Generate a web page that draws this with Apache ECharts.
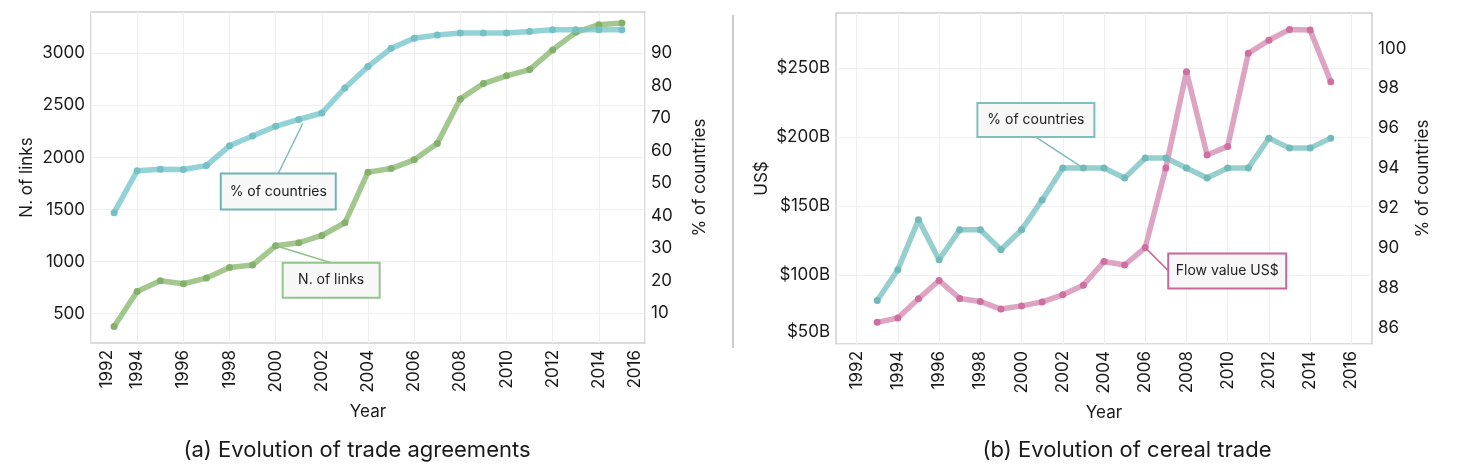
<!DOCTYPE html>
<html><head><meta charset="utf-8">
<script src="https://cdn.jsdelivr.net/npm/echarts@6/dist/echarts.min.js"></script>
<style>html,body{margin:0;padding:0;background:#fff}#c{width:1469px;height:470px}</style>
</head><body><div id="c"></div>
<script>
const years = [1993,1994,1995,1996,1997,1998,1999,2000,2001,2002,2003,2004,2005,2006,2007,2008,2009,2010,2011,2012,2013,2014,2015];
const nLinks = [378,714,816,788,842,944,967,1152,1181,1251,1373,1859,1893,1977,2133,2562,2709,2783,2843,3032,3201,3274,3290];
const pctAgreements = [40.9,53.8,54.3,54.2,55.4,61.5,64.5,67.5,69.6,71.6,79.3,85.9,91.5,94.6,95.6,96.2,96.2,96.2,96.7,97.2,97.2,97.2,97.2];
const flowValueB = [65.7,68.8,82.7,96.0,83.0,80.8,75.3,77.6,80.5,85.6,92.6,109.7,107.2,119.8,177.5,247.2,186.9,193.1,260.5,270.0,277.8,277.3,240.0];
const pctCereal = [87.35,88.9,91.4,89.4,90.9,90.9,89.9,90.9,92.4,94.0,94.0,94.0,93.5,94.5,94.5,94.0,93.5,94.0,94.0,95.5,95.0,95.0,95.5];
const yearTicks = [1992,1994,1996,1998,2000,2002,2004,2006,2008,2010,2012,2014,2016];
const linkTicks = [500,1000,1500,2000,2500,3000];
const pctATicks = [10,20,30,40,50,60,70,80,90];
const flowTicks = [50,100,150,200,250];
const pctBTicks = [86,88,90,92,94,96,98,100];

const FONT = 'Inter';
const TXT = '#1a1a1a';
const pairs = (v) => years.map((y,i)=>[y, v[i]]);
const chart = echarts.init(document.getElementById('c'));

const gridLine = {show:true, lineStyle:{color:'#efefef', width:1}};
function xAx(gi, min, max, edge) {
  return {
    type:'value', gridIndex:gi, min, max,
    name:'Year', nameLocation:'middle', nameGap:60,
    nameTextStyle:{fontFamily:FONT, fontSize:17, color:TXT},
    axisLine:{show:false}, axisTick:{show:false, customValues:yearTicks},
    splitLine:gridLine,
    axisLabel:{customValues:yearTicks, rotate:90, margin:7, fontFamily:FONT, fontSize:17, color:TXT,
      showMinLabel:true, showMaxLabel:true,
      formatter:(v)=>{
        if (edge && v===1992) return '{l|1992}';
        if (edge && v===2016) return '{r|2016}';
        return String(v);
      },
      rich:{l:{fontFamily:FONT,fontSize:17,color:TXT,padding:[32,0,0,0]}, r:{fontFamily:FONT,fontSize:17,color:TXT,padding:[0,0,20,0]}}
    }
  };
}
function yAx(gi, pos, min, max, ticks, name, gap, fmt, split) {
  return {
    type:'value', gridIndex:gi, position:pos, min, max,
    name, nameLocation:'middle', nameGap:gap, nameRotate:90,
    nameTextStyle:{fontFamily:FONT, fontSize:17, color:TXT},
    axisLine:{show:false}, axisTick:{show:false, customValues:ticks},
    splitLine: split ? gridLine : {show:false},
    axisLabel:{customValues:ticks, margin:6, fontFamily:FONT, fontSize:17, color:TXT, formatter:fmt,
      rich:{b:{fontFamily:FONT,fontSize:17,color:TXT,padding:[0,0,24,0]}}}
  };
}
function lineSeries(name, xi, yi, data, lc, pc) {
  return {type:'line', name, xAxisIndex:xi, yAxisIndex:yi, data:pairs(data),
    symbol:'circle', symbolSize:7, showSymbol:true,
    lineStyle:{color:lc, width:5.5}, itemStyle:{color:pc}, z:3, animation:false};
}

const option = {
  animation:false,
  grid:[
    {left:91, top:12, width:554, height:331, show:true, borderColor:'#cfcfcf', borderWidth:1.5, backgroundColor:'#fff'},
    {left:836, top:13, width:536, height:331, show:true, borderColor:'#cfcfcf', borderWidth:1.5, backgroundColor:'#fff'}
  ],
  xAxis:[ xAx(0,1992,2016,true), xAx(1,1991,2017,false) ],
  yAxis:[
    yAx(0,'left',219,3396,linkTicks,'N. of links',56,(v)=>String(v),true),
    yAx(0,'right',0.77,102.7,pctATicks,'% of countries',46,(v)=>String(v),false),
    yAx(1,'left',50,289.7,flowTicks,'US$',66,(v)=> v===50 ? '{b|$50B}' : '$'+v+'B',true),
    yAx(1,'right',85.17,101.78,pctBTicks,'% of countries',42,(v)=>String(v),false)
  ],
  series:[
    lineSeries('N. of links',0,0,nLinks,'rgba(140,186,115,0.8)','#85b06c'),
    lineSeries('% of countries',0,1,pctAgreements,'rgba(120,200,205,0.8)','#74c0c4'),
    lineSeries('% of countries',1,3,pctCereal,'rgba(125,195,195,0.8)','#72b9b9'),
    lineSeries('Flow value US$',1,2,flowValueB,'rgba(210,135,175,0.75)','#cf6fa0')
  ]
};
chart.setOption(option);

function px(xi, yi, yr, val){ return chart.convertToPixel({xAxisIndex:xi, yAxisIndex:yi}, [yr, val]); }
function box(x, y, w, h, text, color){
  return [
    {type:'rect', z:20, shape:{x, y, width:w, height:h}, style:{fill:'#f7f7f7', stroke:color, lineWidth:2}},
    {type:'text', z:21, style:{x:x+w/2, y:y+h/2, text, fill:'#222', font:'14px '+FONT, align:'center', verticalAlign:'middle'}}
  ];
}
function leader(x1,y1,x2,y2,color){
  return {type:'line', z:19, shape:{x1,y1,x2,y2}, style:{stroke:color, lineWidth:1.5}};
}
const iOf = (yr)=>years.indexOf(yr);
const p1 = px(0,1,2001,pctAgreements[iOf(2001)]);
const p2 = px(0,0,2000,nLinks[iOf(2000)]);
const p3 = px(1,3,2003,pctCereal[iOf(2003)]);
const p4 = px(1,2,2006,flowValueB[iOf(2006)]);
const g = [];
const b1 = {x:p1[0]-78, y:p1[1]+54, w:115, h:36};
g.push(leader(p1[0]+4,p1[1]+4,b1.x+b1.w/2,b1.y,'#7fbcbc'), ...box(b1.x,b1.y,b1.w,b1.h,'% of countries','#6fb5b3'));
const b2 = {x:p2[0]+7, y:p2[1]+17, w:97, h:35};
g.push(leader(p2[0],p2[1],b2.x+b2.w/2,b2.y,'#8fc08a'), ...box(b2.x,b2.y,b2.w,b2.h,'N. of links','#93c48d'));
const b3 = {x:p3[0]-106, y:p3[1]-65, w:117, h:34};
g.push(leader(b3.x+b3.w/2,b3.y+b3.h,p3[0],p3[1],'#7fbcbc'), ...box(b3.x,b3.y,b3.w,b3.h,'% of countries','#7fbfbd'));
const b4 = {x:p4[0]+23, y:p4[1]+6, w:118, h:35};
g.push(leader(p4[0],p4[1],b4.x,b4.y+17,'#c8689a'), ...box(b4.x,b4.y,b4.w,b4.h,'Flow value US$','#c8689a'));
g.push({type:'line', shape:{x1:733,y1:15,x2:733,y2:348}, style:{stroke:'#cccccc', lineWidth:2}});
g.push({type:'text', style:{x:357, y:450, text:'(a) Evolution of trade agreements', fill:TXT, font:'22px '+FONT, align:'center', verticalAlign:'middle'}});
g.push({type:'text', style:{x:1127, y:450, text:'(b) Evolution of cereal trade', fill:TXT, font:'22px '+FONT, align:'center', verticalAlign:'middle'}});
chart.setOption({graphic:{elements:g}});
</script></body></html>
